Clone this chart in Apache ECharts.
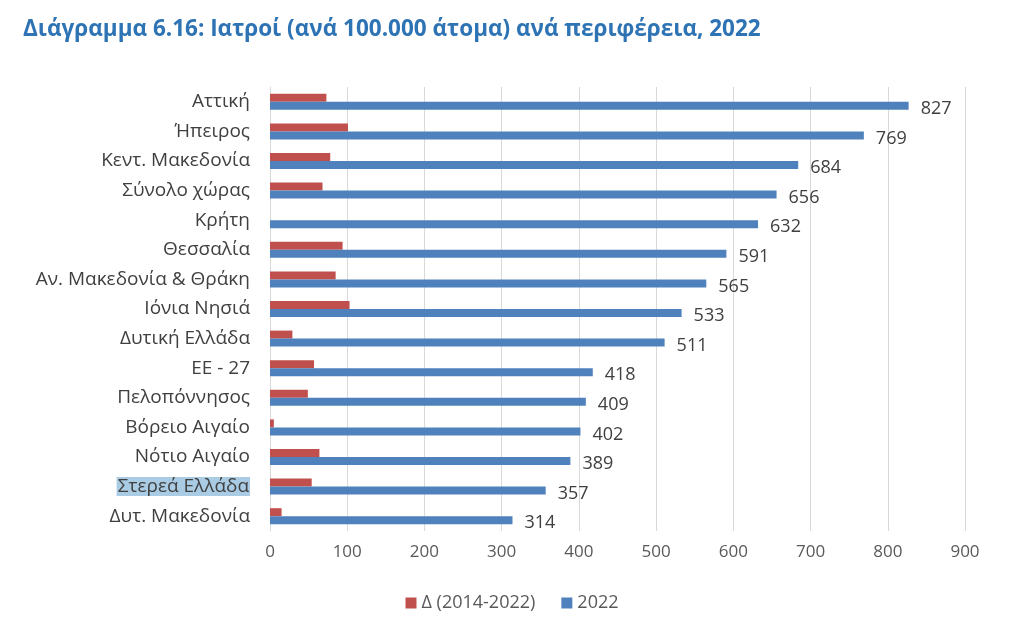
<!DOCTYPE html>
<html><head><meta charset="utf-8">
<script src="https://cdn.jsdelivr.net/npm/echarts@6/dist/echarts.min.js"></script>
<style>html,body{margin:0;padding:0;background:#fff}#c{width:1024px;height:636px}</style>
</head><body><div id="c"></div>
<script>
const categories = ["Αττική","Ήπειρος","Κεντ. Μακεδονία","Σύνολο χώρας","Κρήτη","Θεσσαλία","Αν. Μακεδονία & Θράκη","Ιόνια Νησιά","Δυτική Ελλάδα","ΕΕ - 27","Πελοπόννησος","Βόρειο Αιγαίο","Νότιο Αιγαίο","Στερεά Ελλάδα","Δυτ. Μακεδονία"];
const delta = [73,101,78,68,0,94,85,103,29,57,49,5,64,54,15];
const v2022 = [827,769,684,656,632,591,565,533,511,418,409,402,389,357,314];
const xTicks = [0,100,200,300,400,500,600,700,800,900];
const seriesNames = ["Δ (2014-2022)","2022"];

const font = "'Open Sans', sans-serif";
const chart = echarts.init(document.getElementById('c'));
chart.setOption({
  animation:false,
  title:{text:"Διάγραμμα 6.16: Ιατροί (ανά 100.000 άτομα) ανά περιφέρεια, 2022",left:18,top:13,
    textStyle:{color:'#2E74B5',fontSize:22.5,fontWeight:'bold',fontFamily:font}},
  legend:{bottom:19,left:'center',itemWidth:11,itemHeight:11,itemGap:26,icon:'rect',
    textStyle:{color:'#595959',fontSize:18,fontFamily:font},data:seriesNames},
  grid:{left:270,right:59,top:87,bottom:105,containLabel:false},
  xAxis:{type:'value',min:xTicks[0],max:xTicks[xTicks.length-1],interval:100,
    axisLine:{show:false},axisTick:{show:false},
    splitLine:{lineStyle:{color:'#D9D9D9'}},
    axisLabel:{color:'#595959',fontSize:17,fontFamily:font,margin:13}},
  yAxis:{type:'category',data:categories,inverse:true,
    axisLine:{lineStyle:{color:'#D9D9D9'}},axisTick:{show:false},
    axisLabel:{color:'#404040',fontSize:19,fontFamily:font,margin:20,
      formatter:function(v){return v==="Στερεά Ελλάδα"?'{hl|'+v+'}':v;},
      rich:{hl:{backgroundColor:'#A9CBE3',color:'#404040',fontSize:19,fontFamily:font,padding:[0,1,0,1]}}}},
  series:[
    {name:seriesNames[0],type:'bar',data:delta,barWidth:8,barGap:'0%',itemStyle:{color:'#C0504D'}},
    {name:seriesNames[1],type:'bar',data:v2022,barWidth:8,itemStyle:{color:'#4F81BD'},
      label:{show:true,position:'right',distance:12,color:'#404040',fontSize:18,fontFamily:font,offset:[0,3]}}
  ]
});
</script></body></html>
